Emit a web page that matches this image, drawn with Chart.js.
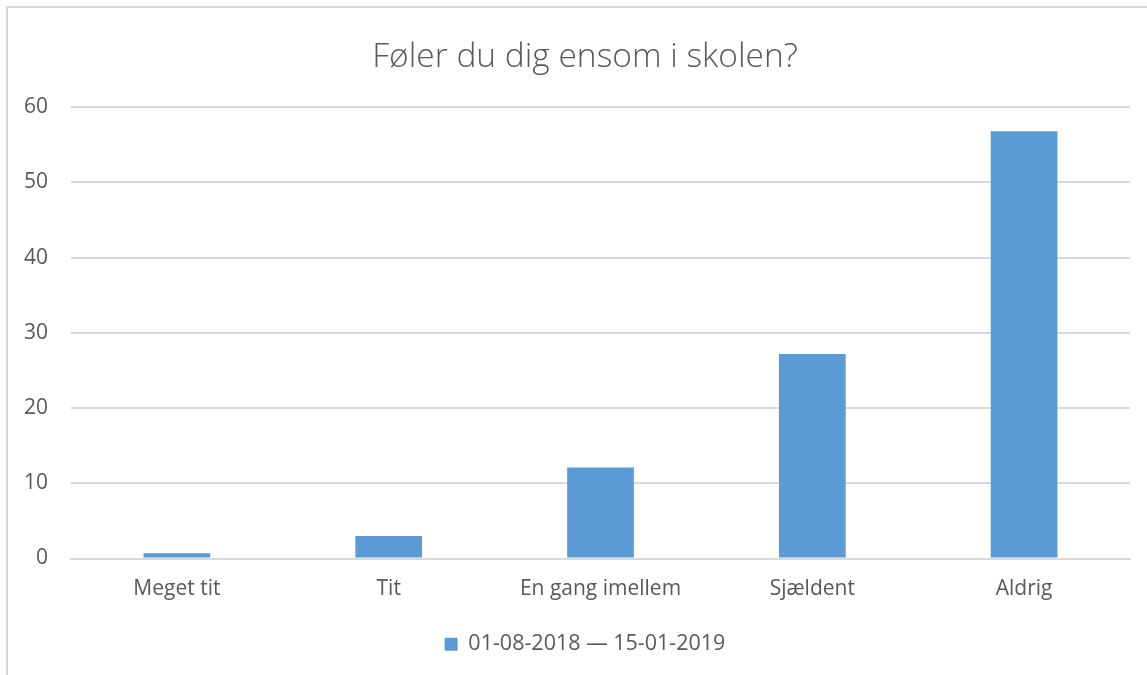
<!DOCTYPE html>
<html>
<head>
<meta charset="utf-8">
<script src="https://cdn.jsdelivr.net/npm/chart.js@4.4.0/dist/chart.umd.min.js"></script>
<style>
  html, body { margin: 0; padding: 0; background: #fff; }
  #frame {
    position: absolute; left: 6px; top: 6px; width: 1141px; height: 669px;
    border-top: 2px solid #d9d9d9; border-left: 2px solid #d9d9d9;
  }
  #chart { position: absolute; left: 0; top: 0; }
</style>
</head>
<body>
<div id="frame"></div>
<canvas id="chart" width="1147" height="675"></canvas>
<script>
// Survey answers
let categories = ['Meget tit', 'Tit', 'En gang imellem', 'Sjældent', 'Aldrig'];
let answers = [0.7, 3, 12.1, 27.2, 56.8];
let period = '01-08-2018 — 15-01-2019';
let title = 'Føler du dig ensom i skolen?';

let textColor = '#595959';
let gridColor = '#d9d9d9';
let barColor = '#5b9bd5';
let font = '"Open Sans", "Liberation Sans", sans-serif';

// title and legend are centred over the plot area, not over the whole canvas
const centreOnPlot = {
  id: 'centreOnPlot',
  afterLayout(chart) {
    [chart.titleBlock, chart.legend].forEach(function(box) {
      if (box) {
        box.left += 16;
        box.right += 16;
      }
    });
  }
};

let ctx = document.getElementById('chart').getContext('2d');
let chart = new Chart(ctx, {
  type: 'bar',
  data: {
    labels: categories,
    datasets: [{
      label: period,
      data: answers,
      backgroundColor: barColor,
      borderWidth: 0,
      categoryPercentage: 1,
      barPercentage: 0.315
    }]
  },
  plugins: [centreOnPlot],
  options: {
    responsive: false,
    animation: false,
    devicePixelRatio: 1,
    layout: {
      padding: { left: 8, right: 17, top: 0, bottom: 10 }
    },
    plugins: {
      title: {
        display: true,
        text: title,
        color: textColor,
        font: { family: font, size: 33.5, weight: '300' },
        padding: { top: 37, bottom: 30 }
      },
      legend: {
        position: 'bottom',
        labels: {
          color: textColor,
          font: { family: font, size: 21.5 },
          boxWidth: 13,
          boxHeight: 13,
          padding: 12
        }
      },
      tooltip: { enabled: false }
    },
    scales: {
      x: {
        grid: { display: false, drawTicks: false, tickLength: 0 },
        border: { display: true, color: gridColor, width: 2 },
        ticks: {
          color: textColor,
          font: { family: font, size: 21 },
          padding: 18,
          maxRotation: 0
        },
        afterFit: function(scale) {
          scale.height = 63;
        }
      },
      y: {
        min: 0,
        max: 60,
        grid: { color: gridColor, lineWidth: 2, drawTicks: false },
        border: { display: false },
        ticks: {
          stepSize: 10,
          color: textColor,
          font: { family: font, size: 21 },
          padding: 23
        },
        afterFit: function(scale) {
          scale.width = 63;
        }
      }
    }
  }
});
</script>
</body>
</html>
